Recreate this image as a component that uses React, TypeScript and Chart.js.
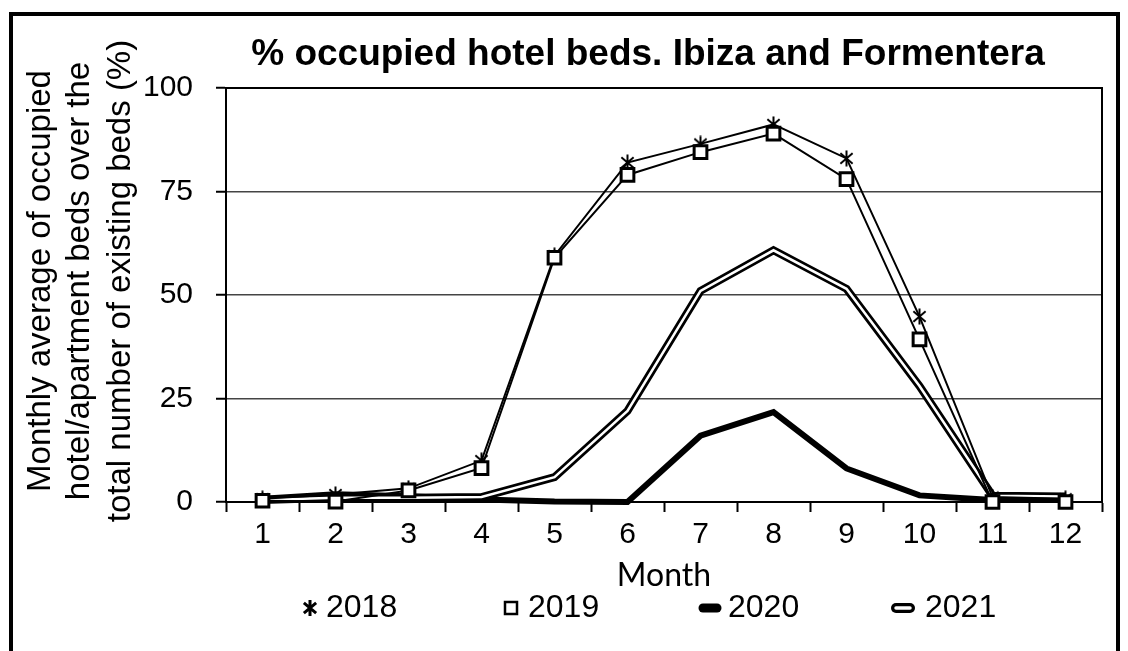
import React, { useEffect, useRef } from "react";
import { Chart, registerables } from "chart.js";

Chart.register(...registerables);

// ---------------- data ----------------
const months = ["1", "2", "3", "4", "5", "6", "7", "8", "9", "10", "11", "12"];
const seriesNames = ["2018", "2019", "2020", "2021"];
const y2018 = [0.8, 1.8, 3.3, 10, 59.5, 82, 86.5, 91.2, 83, 44.8, 1.2, 0.8];
const y2019 = [0.3, 0.1, 2.8, 8.2, 59, 79, 84.5, 89, 78, 39.3, 0, 0];
const y2020 = [0.8, 1.9, 1.4, 0.6, 0.1, 0, 16, 21.7, 8.1, 1.6, 0.5, 0.6];
const y2021 = [0.5, 1.0, 1.0, 1.2, 6, 22, 51, 60.8, 51.5, 28, 1.5, 1.3];
const yTicks = [0, 25, 50, 75, 100];
const chartTitle = "% occupied hotel beds. Ibiza and Formentera";
const yTitle = [
  "Monthly average of occupied",
  "hotel/apartment beds over the",
  "total number of existing beds (%)",
];
const xTitle = "Month";

// ---------------- styles ----------------
const FONT = '"Liberation Sans", Arial, sans-serif';

function strokeAsterisk(ctx: CanvasRenderingContext2D, cx: number, cy: number, r: number) {
  ctx.beginPath();
  for (const deg of [90, 40, 140]) {
    const a = (deg * Math.PI) / 180;
    ctx.moveTo(cx - r * Math.cos(a), cy - r * Math.sin(a));
    ctx.lineTo(cx + r * Math.cos(a), cy + r * Math.sin(a));
  }
  ctx.stroke();
}

function makeAsterisk(size: number, lw: number): HTMLCanvasElement {
  const c = document.createElement("canvas");
  c.width = size;
  c.height = size;
  const ctx = c.getContext("2d")!;
  ctx.strokeStyle = "#000";
  ctx.lineWidth = lw;
  strokeAsterisk(ctx, size / 2, size / 2, size / 2 - 0.5);
  return c;
}

function drawLegendMarker(ctx: CanvasRenderingContext2D, i: number, cx: number, cy: number) {
  ctx.save();
  ctx.strokeStyle = "#000";
  ctx.fillStyle = "#000";
  if (i === 0) {
    ctx.lineWidth = 3;
    strokeAsterisk(ctx, cx, cy, 8);
  } else if (i === 1) {
    ctx.lineWidth = 2.5;
    ctx.fillStyle = "#fff";
    ctx.fillRect(cx - 6, cy - 6, 12, 12);
    ctx.strokeRect(cx - 6, cy - 6, 12, 12);
  } else if (i === 2) {
    ctx.lineCap = "round";
    ctx.lineWidth = 9;
    ctx.beginPath();
    ctx.moveTo(cx - 7, cy);
    ctx.lineTo(cx + 7, cy);
    ctx.stroke();
  } else {
    ctx.lineCap = "round";
    ctx.lineWidth = 10;
    ctx.beginPath();
    ctx.moveTo(cx - 7, cy);
    ctx.lineTo(cx + 7, cy);
    ctx.stroke();
    ctx.strokeStyle = "#fff";
    ctx.lineWidth = 3.5;
    ctx.beginPath();
    ctx.moveTo(cx - 7, cy);
    ctx.lineTo(cx + 7, cy);
    ctx.stroke();
  }
  ctx.restore();
}

const framePlugin = {
  id: "frameBorders",
  beforeDatasetsDraw(chart: any) {
    const { ctx, chartArea: ca } = chart;
    ctx.save();
    ctx.strokeStyle = "#000";
    ctx.lineWidth = 2;
    ctx.beginPath();
    ctx.moveTo(ca.left, ca.top);
    ctx.lineTo(ca.right, ca.top);
    ctx.lineTo(ca.right, ca.bottom);
    ctx.stroke();
    ctx.restore();
  },
};

const textPlugin = {
  id: "texts",
  afterDraw(chart: any) {
    const { ctx } = chart;
    ctx.save();
    ctx.fillStyle = "#000";
    // title
    ctx.font = `bold 37px ${FONT}`;
    ctx.textAlign = "center";
    ctx.textBaseline = "alphabetic";
    ctx.fillText(chartTitle, 648, 65);
    // y-axis title (rotated, three lines)
    ctx.font = `33px ${FONT}`;
    const baselines = [50, 89, 130];
    yTitle.forEach((line, i) => {
      ctx.save();
      ctx.translate(baselines[i], 281);
      ctx.rotate(-Math.PI / 2);
      ctx.textAlign = "center";
      ctx.textBaseline = "alphabetic";
      ctx.fillText(line, 0, 0);
      ctx.restore();
    });
    // legend
    const legendY = 608;
    const markerX = [310, 511, 710, 903];
    const textX = [326, 528, 728, 925];
    ctx.font = `32px ${FONT}`;
    ctx.textAlign = "left";
    ctx.textBaseline = "middle";
    seriesNames.forEach((name, i) => {
      drawLegendMarker(ctx, i, markerX[i], legendY);
      ctx.fillStyle = "#000";
      ctx.fillText(name, textX[i], legendY);
    });
    ctx.restore();
  },
};

export default function App() {
  const canvasRef = useRef<HTMLCanvasElement | null>(null);

  useEffect(() => {
    const canvas = canvasRef.current;
    if (!canvas) return;
    const asterisk = makeAsterisk(17, 2);

    const chart = new Chart(canvas, {
      type: "line",
      data: {
        labels: months,
        datasets: [
          {
            label: seriesNames[0],
            data: y2018,
            borderColor: "#000",
            borderWidth: 2,
            pointStyle: asterisk as any,
            pointRadius: 8,
            pointBackgroundColor: "#000",
            pointBorderColor: "#000",
            order: 1,
            clip: false as any,
          },
          {
            label: seriesNames[1],
            data: y2019,
            borderColor: "#000",
            borderWidth: 2,
            pointStyle: "rect",
            pointRadius: 9,
            pointBorderWidth: 3,
            pointBackgroundColor: "#fff",
            pointBorderColor: "#000",
            order: 0,
            clip: false as any,
          },
          {
            label: seriesNames[2],
            data: y2020,
            borderColor: "#000",
            borderWidth: 6,
            pointRadius: 0,
            order: 4,
            clip: false as any,
          },
          {
            label: seriesNames[3],
            data: y2021,
            borderColor: "#000",
            borderWidth: 8,
            pointRadius: 0,
            order: 3,
            clip: false as any,
          },
          {
            label: seriesNames[3] + " inner",
            data: y2021,
            borderColor: "#fff",
            borderWidth: 2.5,
            pointRadius: 0,
            order: 2,
            clip: false as any,
          },
        ],
      },
      options: {
        responsive: false,
        animation: false,
        devicePixelRatio: 1,
        events: [],
        layout: { padding: { top: 88, right: 26, bottom: 0, left: 0 } },
        plugins: {
          legend: { display: false },
          title: { display: false },
          tooltip: { enabled: false },
        },
        scales: {
          x: {
            type: "category",
            offset: true,
            grid: {
              offset: true,
              drawOnChartArea: false,
              drawTicks: true,
              tickLength: 10,
              tickColor: "#000",
              tickWidth: 2,
            },
            border: { display: true, color: "#000", width: 2 },
            ticks: {
              color: "#000",
              font: { family: FONT, size: 30 },
              padding: 5,
              maxRotation: 0,
              autoSkip: false,
            },
            title: {
              display: true,
              text: xTitle,
              color: "#000",
              font: { family: "Lato, sans-serif", size: 32 },
              padding: { top: 0, bottom: 56 },
            },
            afterFit: (scale: any) => {
              scale.height = 149;
            },
          },
          y: {
            min: 0,
            max: 100,
            afterBuildTicks: (scale: any) => {
              scale.ticks = yTicks.map((v) => ({ value: v }));
            },
            grid: {
              color: (c: any) =>
                c.tick && (c.tick.value === 0 || c.tick.value === 100) ? "rgba(0,0,0,0)" : "#444",
              lineWidth: 1.5,
              drawTicks: true,
              tickLength: 10,
              tickColor: "#000",
              tickWidth: 2,
            },
            border: { display: true, color: "#000", width: 2 },
            ticks: {
              color: "#000",
              font: { family: FONT, size: 30 },
              padding: 23,
            },
            afterFit: (scale: any) => {
              scale.width = 226;
            },
          },
        },
      },
      plugins: [framePlugin, textPlugin],
    });

    return () => chart.destroy();
  }, []);

  return (
    <div
      style={{
        position: "absolute",
        left: 0,
        top: 0,
        width: 1128,
        height: 651,
        overflow: "hidden",
        background: "#fff",
      }}
    >
      <canvas
        ref={canvasRef}
        width={1128}
        height={651}
        style={{ position: "absolute", left: 0, top: 0, width: 1128, height: 651 }}
      />
      <div
        style={{
          position: "absolute",
          left: 9,
          top: 12,
          width: 1111,
          height: 720,
          border: "4px solid #000",
          boxSizing: "border-box",
          pointerEvents: "none",
        }}
      />
    </div>
  );
}
